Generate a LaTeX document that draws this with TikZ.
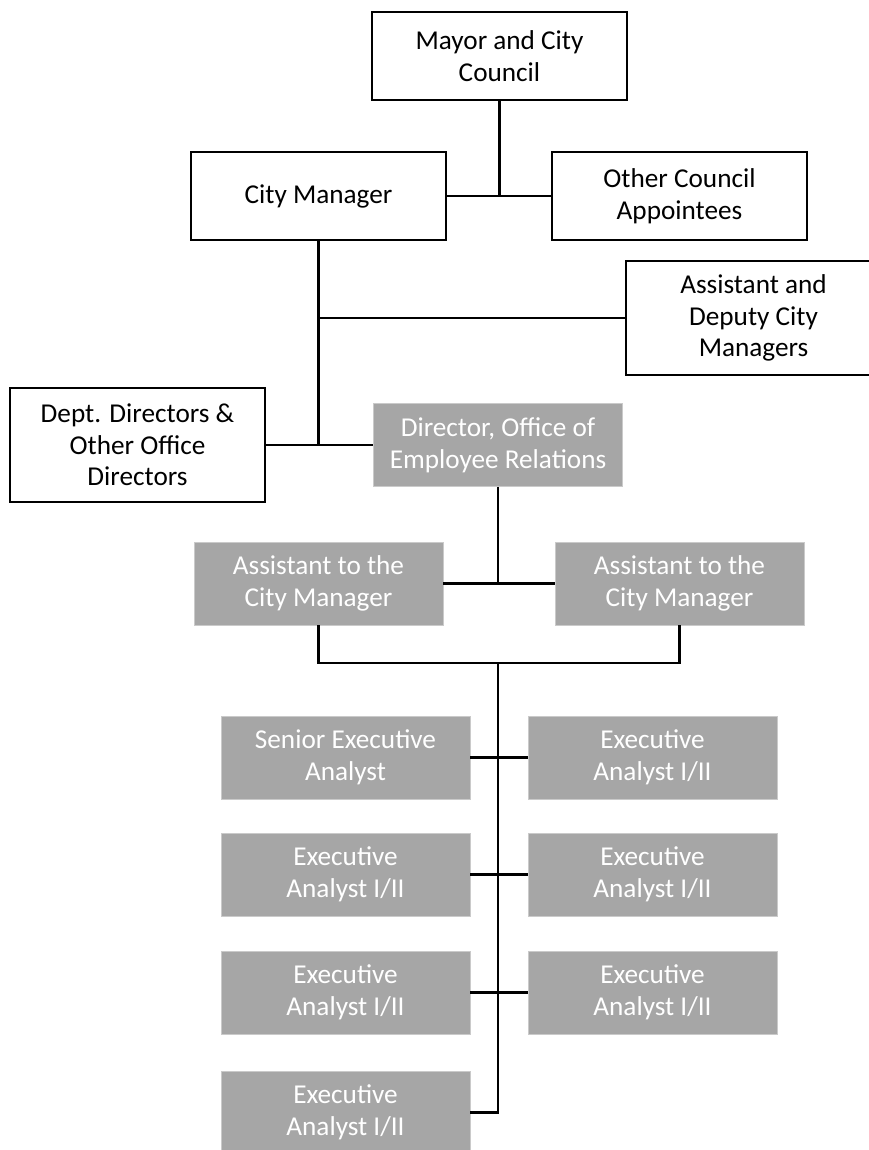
\documentclass[tikz,border=0pt]{standalone}
\usepackage{fontspec}
\setmainfont{Carlito}
\usetikzlibrary{calc}
\definecolor{boxgray}{RGB}{166,166,166}
\tikzset{
  wbox/.style={draw, line width=1.3pt, fill=white, minimum width=5.1cm, minimum height=1.76cm, inner sep=0pt, align=center, font=\fontsize{15.5}{18}\selectfont},
  wtall/.style={wbox, minimum height=2.28cm},
  gbox/.style={draw=boxgray!60, line width=0.4pt, fill=boxgray, text=white, minimum width=4.98cm, minimum height=1.66cm, inner sep=0pt, align=center, font=\fontsize{15.5}{18}\selectfont},
  link/.style={line width=1.4pt}
}

\begin{document}
\begin{tikzpicture}[x=0.02cm,y=-0.02cm]
\useasboundingbox (0,0) rectangle (869,1150);

%Mayor
\node[wbox] (mayor) at (499.5,56) {Mayor and City\\Council};
%City manager
\node[wbox] (cm) at (318.5,196) {City Manager};
%Other appointees
\node[wbox] (oca) at (679.5,196) {Other Council\\Appointees};
%Assistant and deputy
\node[wtall] (adcm) at (753.5,318) {Assistant and\\Deputy City\\Managers};
%Dept directors
\node[wtall] (dept) at (137.5,445) {Dept. Directors \&\\Other Office\\Directors};

%Employee relations
\node[gbox] (derl) at (498,445) {Director, Office of\\Employee Relations};
%Assistants
\node[gbox] (asst1) at (318.5,583.5) {Assistant to the\\City Manager};
\node[gbox] (asst2) at (679.5,583.5) {Assistant to the\\City Manager};

%Analysts
\node[gbox] (sea) at (345.5,757.5) {Senior Executive\\Analyst};
\node[gbox] (ea2) at (652.5,757.5) {Executive\\Analyst I/II};
\node[gbox] (ea3) at (345.5,874.5) {Executive\\Analyst I/II};
\node[gbox] (ea4) at (652.5,874.5) {Executive\\Analyst I/II};
\node[gbox] (ea5) at (345.5,992.5) {Executive\\Analyst I/II};
\node[gbox] (ea6) at (652.5,992.5) {Executive\\Analyst I/II};
\node[gbox] (ea7) at (345.5,1112.5) {Executive\\Analyst I/II};

%Council lines
\coordinate (council) at (mayor.south |- cm.east);
\draw[link] (mayor.south) -- (council);
\draw[link] (cm.east) -- (oca.west);

%Manager lines
\coordinate (cmfoot) at (cm.south |- dept.east);
\draw[link] (cm.south) -- (cmfoot);
\draw[line width=1pt] (cm.south |- adcm.west) -- (adcm.west);
\draw[link] (dept.east) -- (derl.west);

%Employee relations lines
\draw[link] (derl.south) -- (derl.south |- asst1.east);
\draw[link] (asst1.east) -- (asst2.west);
\coordinate (fork) at (498,663);
\draw[link] (asst1.south) |- (fork) -| (asst2.south);

%Spine
\coordinate (spineend) at (fork |- ea7.east);
\draw[link] (fork) -- (spineend) -- (ea7.east);
\foreach \l/\r in {sea/ea2, ea3/ea4, ea5/ea6}
  \draw[link] (\l.east) -- (\r.west);

\end{tikzpicture}
\end{document}
